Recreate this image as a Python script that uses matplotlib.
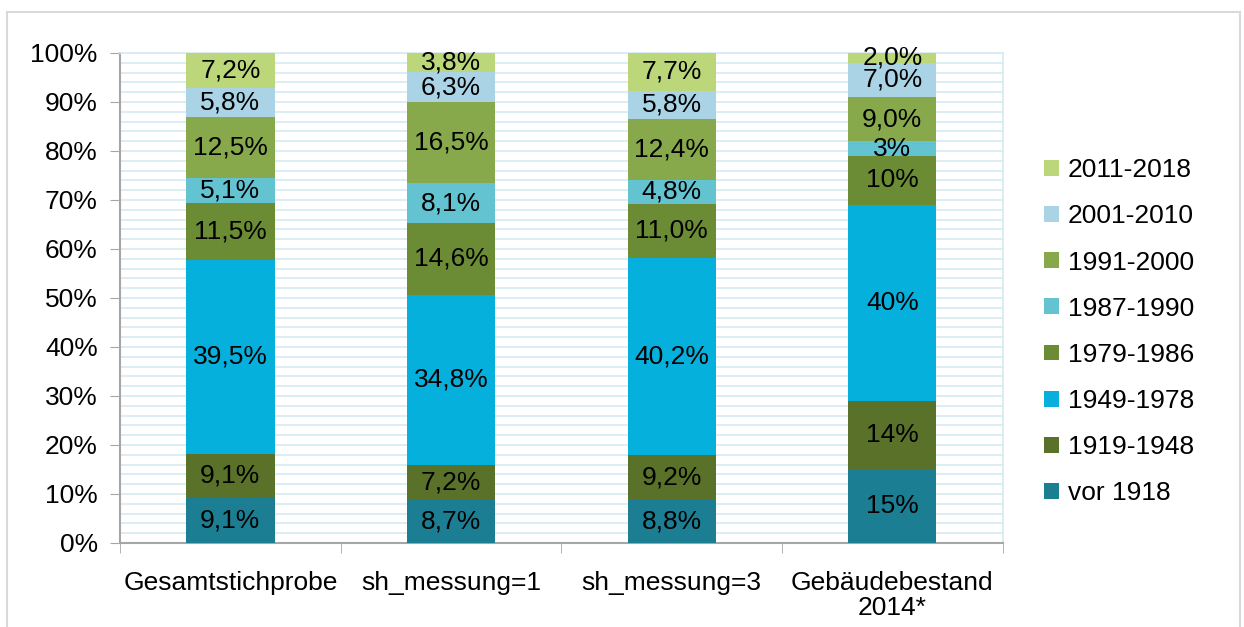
import matplotlib.pyplot as plt
from matplotlib.patches import Rectangle
from matplotlib.ticker import MultipleLocator, FixedLocator, PercentFormatter

plt.rcParams['font.family'] = ['Liberation Sans', 'DejaVu Sans']

categories = ['Gesamtstichprobe', 'sh_messung=1', 'sh_messung=3', 'Gebäudebestand\n2014*']
periods = ['vor 1918', '1919-1948', '1949-1978', '1979-1986',
           '1987-1990', '1991-2000', '2001-2010', '2011-2018']

# shares per period, one list per category (bottom to top)
gesamt = [9.1, 9.1, 39.5, 11.5, 5.1, 12.5, 5.8, 7.2]
sh1 = [8.7, 7.2, 34.8, 14.6, 8.1, 16.5, 6.3, 3.8]
sh3 = [8.8, 9.2, 40.2, 11.0, 4.8, 12.4, 5.8, 7.7]
bestand = [15, 14, 40, 10, 3, 9.0, 7.0, 2.0]

labels_gesamt = ['9,1%', '9,1%', '39,5%', '11,5%', '5,1%', '12,5%', '5,8%', '7,2%']
labels_sh1 = ['8,7%', '7,2%', '34,8%', '14,6%', '8,1%', '16,5%', '6,3%', '3,8%']
labels_sh3 = ['8,8%', '9,2%', '40,2%', '11,0%', '4,8%', '12,4%', '5,8%', '7,7%']
labels_bestand = ['15%', '14%', '40%', '10%', '3%', '9,0%', '7,0%', '2,0%']

colors = ['#1b7e92', '#5a7129', '#06b0dc', '#6b8b35',
          '#63c3d1', '#87a94c', '#aad4e6', '#bcd67a']

data = [gesamt, sh1, sh3, bestand]
labels = [labels_gesamt, labels_sh1, labels_sh3, labels_bestand]

fs = 19

fig = plt.figure(figsize=(12.44, 6.27), dpi=100)
ax = fig.add_axes([0.0965, 0.134, 0.7095, 0.7815])

fig.patches.append(Rectangle((7 / 1244, -0.01), 1233 / 1244, 1 - 12 / 627 + 0.01,
                             transform=fig.transFigure, fill=False,
                             edgecolor='#d9d9d9', linewidth=1.5))

x = range(len(categories))
for i in range(len(categories)):
    total = sum(data[i])
    bottom = 0
    for j in range(len(periods)):
        h = data[i][j] / total * 100
        ax.bar(i, h, bottom=bottom, width=0.4, color=colors[j],
               label=periods[j] if i == 0 else None, zorder=3)
        ax.text(i, bottom + h / 2, labels[i][j], ha='center', va='center',
                fontsize=fs, zorder=4)
        bottom += h

ax.set_xlim(-0.5, 3.5)
ax.set_ylim(0, 100)
ax.yaxis.set_major_locator(MultipleLocator(10))
ax.yaxis.set_minor_locator(MultipleLocator(2))
ax.yaxis.set_major_formatter(PercentFormatter(decimals=0))
ax.grid(True, which='both', axis='y', color='#d7eaf2', linewidth=1.2, zorder=0)
ax.tick_params(axis='y', which='minor', length=0)
ax.tick_params(axis='y', which='major', length=7, color='#a6a6a6', labelsize=fs, pad=9)

ax.set_xticks(list(x))
ax.set_xticklabels(categories, fontsize=fs, linespacing=1.05)
ax.xaxis.set_minor_locator(FixedLocator([-0.5, 0.5, 1.5, 2.5, 3.5]))
ax.tick_params(axis='x', which='major', length=0, pad=20)
ax.tick_params(axis='x', which='minor', length=7, color='#a6a6a6')

for s in ['left', 'bottom']:
    ax.spines[s].set_color('#a6a6a6')
    ax.spines[s].set_linewidth(1.5)
for s in ['top', 'right']:
    ax.spines[s].set_color('#d7eaf2')
    ax.spines[s].set_linewidth(1.2)

handles, leg_labels = ax.get_legend_handles_labels()
ax.legend(handles[::-1], leg_labels[::-1], loc='center left',
          bbox_to_anchor=(1.02, 0.431), frameon=False, fontsize=fs,
          handlelength=0.55, handleheight=0.55, handletextpad=0.35,
          labelspacing=0.84)

fig.savefig('out.png', dpi=100)
